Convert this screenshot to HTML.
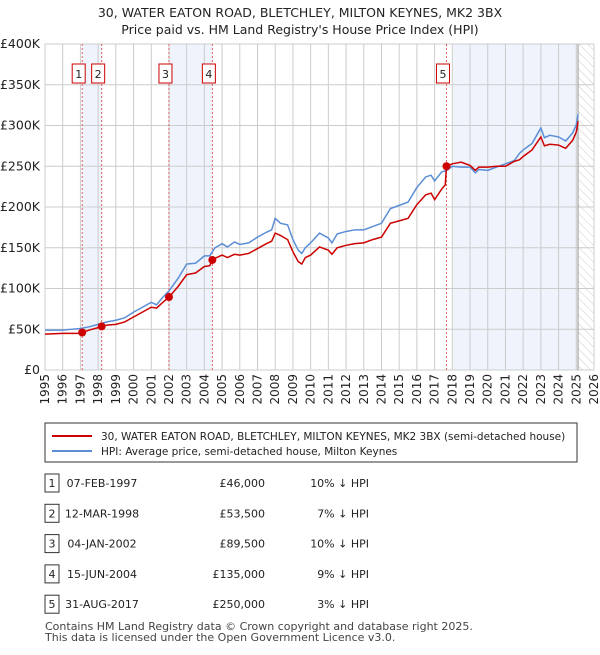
<!DOCTYPE html>
<html><head><meta charset="utf-8"><style>
body{margin:0;background:#fff;font-family:"Liberation Sans","DejaVu Sans",sans-serif;}
svg text{font-family:"DejaVu Sans","Liberation Sans",sans-serif;}
</style></head><body>
<svg id="c" width="600" height="650" xmlns="http://www.w3.org/2000/svg">
<defs><pattern id="hatch" width="6" height="6" patternUnits="userSpaceOnUse" patternTransform="rotate(-45)"><line x1="0" y1="0" x2="0" y2="6" stroke="#ccc" stroke-width="1"/></pattern></defs>
<text x="300" y="17" text-anchor="middle" font-size="12.5" fill="#222">30, WATER EATON ROAD, BLETCHLEY, MILTON KEYNES, MK2 3BX</text>
<text x="300" y="34" text-anchor="middle" font-size="12.5" fill="#222">Price paid vs. HM Land Registry's House Price Index (HPI)</text>
<g id="plot"></g>
<rect x="45" y="423" width="532" height="39" fill="#fff" stroke="#333"/>
<line x1="52" y1="436" x2="92" y2="436" stroke="#cc0000" stroke-width="2"/>
<text x="101" y="440" font-size="10.5" fill="#222">30, WATER EATON ROAD, BLETCHLEY, MILTON KEYNES, MK2 3BX (semi-detached house)</text>
<line x1="52" y1="451" x2="92" y2="451" stroke="#5b8ed6" stroke-width="2"/>
<text x="101" y="455" font-size="10.5" fill="#222">HPI: Average price, semi-detached house, Milton Keynes</text>
<g id="tbl"></g>
<text x="45" y="630" font-size="11" fill="#444">Contains HM Land Registry data © Crown copyright and database right 2025.</text>
<text x="45" y="641" font-size="11" fill="#444">This data is licensed under the Open Government Licence v3.0.</text>
</svg>
<script>
const hpiYears=[1995,1996,1997,1997.5,1998,1998.5,1999,1999.5,2000,2000.5,2001,2001.3,2001.6,2002,2002.5,2003,2003.5,2004,2004.3,2004.6,2005,2005.3,2005.7,2006,2006.5,2007,2007.5,2007.8,2008,2008.3,2008.7,2009,2009.3,2009.5,2009.7,2010,2010.5,2011,2011.2,2011.5,2012,2012.5,2013,2013.5,2014,2014.5,2015,2015.5,2016,2016.5,2016.8,2017,2017.4,2017.7,2018,2018.5,2019,2019.3,2019.5,2020,2020.5,2021,2021.5,2021.8,2022,2022.5,2023,2023.2,2023.5,2024,2024.4,2024.8,2025.0,2025.1];
const hpiValues=[49,49,51,53,56,59,61,64,71,77,83,80,88,97,112,130,131,140,140,150,155,151,157,154,156,163,169,172,186,180,178,160,147,143,150,156,168,162,156,167,170,172,172,176,180,198,202,206,224,237,239,232,243,245,250,249,249,242,246,245,249,253,257,266,270,278,297,285,288,286,281,291,301,314];
const paidYears=[1995,1996,1997,1997.1,1997.5,1998,1998.2,1998.5,1999,1999.5,2000,2000.5,2001,2001.3,2001.6,2002,2002.5,2003,2003.5,2004,2004.3,2004.45,2004.6,2005,2005.3,2005.7,2006,2006.5,2007,2007.5,2007.8,2008,2008.3,2008.7,2009,2009.3,2009.5,2009.7,2010,2010.5,2011,2011.2,2011.5,2012,2012.5,2013,2013.5,2014,2014.5,2015,2015.5,2016,2016.5,2016.8,2017,2017.4,2017.6,2017.67,2018,2018.5,2019,2019.3,2019.5,2020,2020.5,2021,2021.5,2021.8,2022,2022.5,2023,2023.2,2023.5,2024,2024.4,2024.8,2025.0,2025.1];
const paidValues=[44,45,45,46,49,52,53.5,55,56,59,65,71,77,76,82,89.5,102,117,119,127,128,135,137,141,138,142,141,143,149,155,158,168,165,160,145,133,130,138,141,151,147,142,150,153,155,156,160,163,180,183,186,203,215,217,209,222,227,250,253,255,251,245,249,249,250,250,256,258,262,270,286,275,277,276,272,282,292,305];
const saleYears=[1997.1,1998.2,2002.0,2004.45,2017.67];
const salePrices=[46,53.5,89.5,135,250];
const saleLabels=["1","2","3","4","5"];
const saleDates=["07-FEB-1997","12-MAR-1998","04-JAN-2002","15-JUN-2004","31-AUG-2017"];
const salePriceText=["£46,000","£53,500","£89,500","£135,000","£250,000"];
const saleHpiText=["10% ↓ HPI","7% ↓ HPI","10% ↓ HPI","9% ↓ HPI","3% ↓ HPI"];
const yTicks=[0,50,100,150,200,250,300,350,400];
const yTickLabels=["£0","£50K","£100K","£150K","£200K","£250K","£300K","£350K","£400K"];
const xTicks=[1995,1996,1997,1998,1999,2000,2001,2002,2003,2004,2005,2006,2007,2008,2009,2010,2011,2012,2013,2014,2015,2016,2017,2018,2019,2020,2021,2022,2023,2024,2025,2026];
const X0=45,X1=594,Y0=370,Y1=44;
const xs=y=>X0+(y-1995)/31*(X1-X0);
const ys=v=>Y0-v/400*(Y0-Y1);
const NS="http://www.w3.org/2000/svg";
function mk(p,tag,a){const e=document.createElementNS(NS,tag);for(const k in a)e.setAttribute(k,a[k]);p.appendChild(e);return e;}
const g=document.getElementById('plot');
const dataEnd=2025.1;
const s1=mk(g,'rect',{x:xs(1997.1),y:Y1,width:xs(1998.2)-xs(1997.1),height:Y0-Y1,fill:'#eef3fc'});

const s2=mk(g,'rect',{x:xs(2002.0),y:Y1,width:xs(2004.45)-xs(2002.0),height:Y0-Y1,fill:'#eef3fc'});

const s3=mk(g,'rect',{x:xs(2018.05),y:Y1,width:xs(dataEnd)-xs(2018.05),height:Y0-Y1,fill:'#eef3fc'});

const h=mk(g,'rect',{x:xs(dataEnd),y:Y1,width:X1-xs(dataEnd),height:Y0-Y1,fill:'url(#hatch)'});

xTicks.forEach(t=>{const l=mk(g,'line',{x1:xs(t),x2:xs(t),y1:Y1,y2:Y0,stroke:'#ccc','stroke-width':1});

const tx=mk(g,'text',{x:0,y:0,'font-size':12,fill:'#222','text-anchor':'end',transform:`translate(${xs(t)+4},374) rotate(-90)`});tx.textContent=t;
});
yTicks.forEach((t,i)=>{const l=mk(g,'line',{x1:X0,x2:X1,y1:ys(t),y2:ys(t),stroke:'#ccc','stroke-width':1});

const tx=mk(g,'text',{x:40,y:ys(t)+4,'font-size':12.5,fill:'#222','text-anchor':'end'});tx.textContent=yTickLabels[i];
});
const el=mk(g,'line',{x1:xs(dataEnd),x2:xs(dataEnd),y1:Y1,y2:Y0,stroke:'#999','stroke-width':1});

saleYears.forEach((y,i)=>{const l=mk(g,'line',{x1:xs(y),x2:xs(y),y1:Y1,y2:Y0,stroke:'#e06060','stroke-width':1,'stroke-dasharray':'2,2'});
});
const bp=mk(g,'polyline',{points:hpiYears.map((y,i)=>xs(y)+','+ys(hpiValues[i])).join(' '),fill:'none',stroke:'#5b8ed6','stroke-width':1.5});

const rp=mk(g,'polyline',{points:paidYears.map((y,i)=>xs(y)+','+ys(paidValues[i])).join(' '),fill:'none',stroke:'#cc0000','stroke-width':1.5});

saleYears.forEach((y,i)=>{const c=mk(g,'circle',{cx:xs(y),cy:ys(salePrices[i]),r:4,fill:'#cc0000'});

const r=mk(g,'rect',{x:xs(y)-10,y:64,width:13,height:19,fill:'#fff',stroke:'#cc0000','stroke-width':1});

const t=mk(g,'text',{x:xs(y)-3.5,y:78,'font-size':11,fill:'#222','text-anchor':'middle'});t.textContent=saleLabels[i];
});
const tb=document.getElementById('tbl');
saleLabels.forEach((lb,i)=>{const y=483+i*30.3;
const r=mk(tb,'rect',{x:45,y:y-9,width:14,height:18,fill:'#fff',stroke:'#333'});

const a=mk(tb,'text',{x:52,y:y+4,'font-size':11,fill:'#222','text-anchor':'middle'});a.textContent=lb;

const d=mk(tb,'text',{x:102,y:y+4,'font-size':11,fill:'#222','text-anchor':'middle'});d.textContent=saleDates[i];

const p=mk(tb,'text',{x:265,y:y+4,'font-size':11,fill:'#222','text-anchor':'end'});p.textContent=salePriceText[i];

const q=mk(tb,'text',{x:369,y:y+4,'font-size':11,fill:'#222','text-anchor':'end'});q.textContent=saleHpiText[i];
});
</script>
</body></html>
